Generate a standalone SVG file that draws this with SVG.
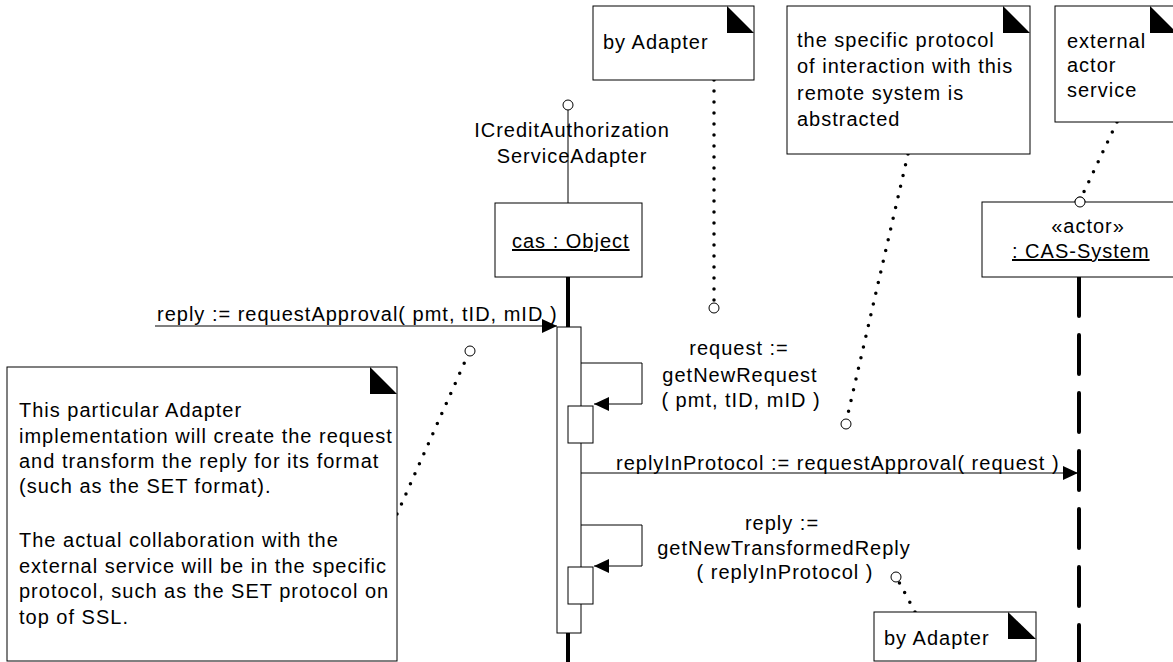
<svg xmlns="http://www.w3.org/2000/svg" width="1173" height="662" viewBox="0 0 1173 662">
<style>
text{font-family:"Liberation Sans",Arial,sans-serif;font-size:20px;letter-spacing:1px;fill:#000}
.box{fill:#fff;stroke:#000;stroke-width:1}
.fold{fill:#000;stroke:none}
.dot{fill:none;stroke:#000;stroke-width:3.5;stroke-linecap:round;stroke-dasharray:0 11}
.pin{fill:#fff;stroke:#000;stroke-width:1}
.msg{fill:none;stroke:#000;stroke-width:1}
.life{stroke:#000;stroke-width:4;fill:none}
.mid{text-anchor:middle}
</style>
<defs>
<marker id="ah" markerUnits="userSpaceOnUse" markerWidth="16" markerHeight="16" viewBox="0 0 16 16" refX="15" refY="7" orient="auto">
<path d="M0,0 L15,7 L0,14 z" fill="#000"/>
</marker>
</defs>

<g id="lifelines">
<line class="life" x1="568" y1="277" x2="568" y2="327"/>
<line class="life" x1="568" y1="633" x2="568" y2="662"/>
<line class="life" x1="1079" y1="277" x2="1079" y2="662" stroke-dasharray="39 19" stroke-linecap="round"/>
</g>

<g id="connectors">
<line class="msg" x1="155" y1="326" x2="557" y2="326" marker-end="url(#ah)"/>
<polyline class="msg" points="581,363 642,363 642,404 594,404" marker-end="url(#ah)"/>
<line class="msg" x1="581" y1="473" x2="1078" y2="473" marker-end="url(#ah)"/>
<polyline class="msg" points="581,525 642,525 642,566 594,566" marker-end="url(#ah)"/>
<line class="msg" x1="568" y1="110" x2="568" y2="203"/>
<circle class="pin" cx="568" cy="105" r="5"/>
<line class="dot" x1="714" y1="80" x2="714" y2="302"/>
<circle class="pin" cx="714" cy="308" r="5"/>
<line class="dot" x1="908" y1="154" x2="847" y2="418"/>
<circle class="pin" cx="846" cy="424" r="5"/>
<line class="dot" x1="1117" y1="122" x2="1082" y2="196"/>
<circle class="pin" cx="1080" cy="202" r="5"/>
<line class="dot" x1="397" y1="514" x2="467" y2="357"/>
<circle class="pin" cx="470" cy="351" r="5"/>
<line class="dot" x1="915" y1="612" x2="899" y2="582"/>
<circle class="pin" cx="896" cy="577" r="5"/>
</g>

<g id="activation">
<rect class="box" x="557" y="327" width="24" height="306"/>
<rect class="box" x="568" y="406" width="25" height="37"/>
<rect class="box" x="568" y="567" width="25" height="37"/>
</g>

<g id="labels">
<text x="157" y="321">reply := requestApproval( pmt, tID, mID )</text>
<text class="mid" x="739" y="355">request :=</text>
<text class="mid" x="740" y="382">getNewRequest</text>
<text class="mid" x="741" y="407">( pmt, tID, mID )</text>
<text x="616" y="470">replyInProtocol := requestApproval( request )</text>
<text class="mid" x="782" y="530">reply :=</text>
<text class="mid" x="784" y="555">getNewTransformedReply</text>
<text class="mid" x="785" y="579">( replyInProtocol )</text>
</g>

<g id="interface">
<text class="mid" x="572" y="137">ICreditAuthorization</text>
<text class="mid" x="572" y="163">ServiceAdapter</text>
</g>

<g id="cas">
<rect class="box" x="495" y="203" width="147" height="74"/>
<text x="512" y="248" text-decoration="underline">cas : Object</text>
</g>

<g id="actor">
<rect class="box" x="982" y="202" width="196" height="75"/>
<circle class="pin" cx="1080" cy="202" r="5"/>
<text class="mid" x="1088" y="233">«actor»</text>
<text x="1012" y="258" text-decoration="underline">: CAS-System</text>
</g>

<g id="note-adapter-top">
<rect class="box" x="593" y="6" width="161" height="74"/>
<polygon class="fold" points="727,6 754,33 727,33"/>
<text x="603" y="49">by Adapter</text>
</g>

<g id="note-protocol">
<rect class="box" x="787" y="6" width="243" height="148"/>
<polygon class="fold" points="1003,6 1030,33 1003,33"/>
<text x="797" y="47">the specific protocol</text>
<text x="797" y="73">of interaction with this</text>
<text x="797" y="100">remote system is</text>
<text x="797" y="126">abstracted</text>
</g>

<g id="note-external">
<rect class="box" x="1055" y="6" width="125" height="116"/>
<polygon class="fold" points="1150,6 1177,33 1150,33"/>
<text x="1067" y="48">external</text>
<text x="1067" y="72">actor</text>
<text x="1067" y="97">service</text>
</g>

<g id="note-left">
<rect class="box" x="7" y="367" width="390" height="294"/>
<polygon class="fold" points="370,367 397,394 370,394"/>
<text x="19" y="417">This particular Adapter</text>
<text x="19" y="443">implementation will create the request</text>
<text x="19" y="468">and transform the reply for its format</text>
<text x="19" y="493">(such as the SET format).</text>
<text x="19" y="547">The actual collaboration with the</text>
<text x="19" y="573">external service will be in the specific</text>
<text x="19" y="598">protocol, such as the SET protocol on</text>
<text x="19" y="624">top of SSL.</text>
</g>

<g id="note-adapter-bottom">
<rect class="box" x="874" y="612" width="162" height="49"/>
<polygon class="fold" points="1008,612 1036,639 1008,639"/>
<text x="884" y="645">by Adapter</text>
</g>
</svg>
